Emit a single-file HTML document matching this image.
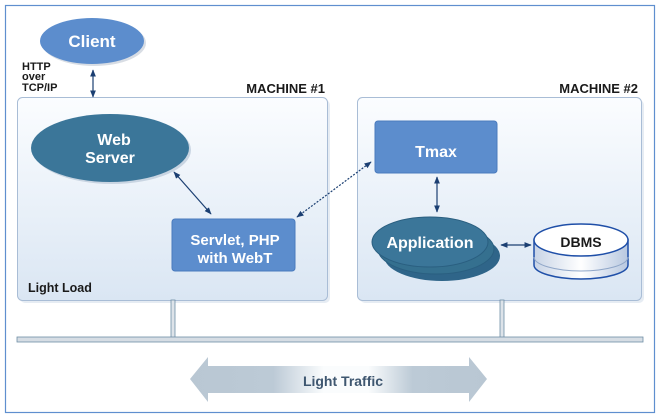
<!DOCTYPE html>
<html><head><style>
html,body{margin:0;padding:0;background:#fff;}
svg{display:block;}
text{font-family:"Liberation Sans",sans-serif;font-weight:bold;}
</style></head><body>
<svg width="660" height="418" viewBox="0 0 660 418" xmlns="http://www.w3.org/2000/svg">
<defs>
<linearGradient id="box" x1="0" y1="0" x2="0" y2="1"><stop offset="0" stop-color="#fbfdff"/><stop offset="1" stop-color="#dae6f3"/></linearGradient>
<linearGradient id="big" x1="0" y1="0" x2="1" y2="0"><stop offset="0" stop-color="#b9c7d3"/><stop offset="0.28" stop-color="#bccad6"/><stop offset="0.45" stop-color="#fafcfd"/><stop offset="0.6" stop-color="#fafcfd"/><stop offset="0.75" stop-color="#bccad6"/><stop offset="1" stop-color="#b9c7d3"/></linearGradient>
<linearGradient id="cyl" x1="0" y1="0" x2="1" y2="0"><stop offset="0" stop-color="#c8d4e6"/><stop offset="0.5" stop-color="#ffffff"/><stop offset="1" stop-color="#b8c8e0"/></linearGradient>
<marker id="ah" viewBox="0 0 10 10" refX="9" refY="5" markerWidth="6" markerHeight="6" orient="auto-start-reverse"><path d="M0,1 L10,5 L0,9 z" fill="#1b3f72"/></marker>
</defs>
<rect x="5.5" y="5.5" width="649" height="407" fill="#fff" stroke="#5f8fcf" stroke-width="1.2"/>
<!-- machine boxes -->
<rect x="20" y="100" width="310" height="203" rx="5" fill="#e6ecf3"/>
<rect x="17.5" y="97.5" width="310" height="203" rx="5" fill="url(#box)" stroke="#a9bdd6"/>
<rect x="360" y="100" width="284" height="203" rx="5" fill="#e6ecf3"/>
<rect x="357.5" y="97.5" width="284" height="203" rx="5" fill="url(#box)" stroke="#a9bdd6"/>
<text x="325" y="93" font-size="13" text-anchor="end" fill="#1a1a1a">MACHINE #1</text>
<text x="638" y="93" font-size="13" text-anchor="end" fill="#1a1a1a">MACHINE #2</text>
<text x="28" y="292" font-size="12.5" fill="#1a1a1a">Light Load</text>
<!-- client -->
<ellipse cx="94" cy="43" rx="52" ry="23" fill="#d8dde4"/>
<ellipse cx="92" cy="41" rx="52" ry="23" fill="#5c8dcd"/>
<text x="92" y="47" font-size="17" text-anchor="middle" fill="#fff">Client</text>
<text x="22" y="70" font-size="11" fill="#1a1a1a">HTTP</text>
<text x="22" y="80" font-size="11" fill="#1a1a1a">over</text>
<text x="22" y="91" font-size="11" fill="#1a1a1a">TCP/IP</text>
<line x1="93" y1="70" x2="93" y2="97" stroke="#1b3f72" stroke-width="1.2" marker-start="url(#ah)" marker-end="url(#ah)"/>
<!-- web server -->
<ellipse cx="112" cy="150" rx="79" ry="34" fill="#c9d5e2"/>
<ellipse cx="110" cy="148" rx="79" ry="34" fill="#3b7699"/>
<text x="114" y="145" font-size="16" text-anchor="middle" fill="#fff">Web</text>
<text x="110" y="163" font-size="16" text-anchor="middle" fill="#fff">Server</text>
<!-- servlet -->
<rect x="172" y="219" width="123" height="52" rx="3" fill="#5c8dcd" stroke="#4a7bbd"/>
<text x="235" y="245" font-size="15" text-anchor="middle" fill="#fff">Servlet, PHP</text>
<text x="235" y="263" font-size="15" text-anchor="middle" fill="#fff">with WebT</text>
<line x1="174" y1="172" x2="211" y2="214" stroke="#1b3f72" stroke-width="1.2" marker-start="url(#ah)" marker-end="url(#ah)"/>
<line x1="297" y1="217" x2="371" y2="162" stroke="#1b3f72" stroke-width="1.2" stroke-dasharray="2,1.5" marker-start="url(#ah)" marker-end="url(#ah)"/>
<!-- tmax -->
<rect x="375" y="121" width="122" height="52" rx="3" fill="#5c8dcd" stroke="#4a7bbd"/>
<text x="436" y="157" font-size="16" text-anchor="middle" fill="#fff">Tmax</text>
<line x1="437" y1="177" x2="437" y2="212" stroke="#1b3f72" stroke-width="1.2" marker-start="url(#ah)" marker-end="url(#ah)"/>
<!-- application -->
<ellipse cx="442" cy="256" rx="58" ry="25" fill="#2f6589"/>
<ellipse cx="436" cy="249" rx="58" ry="25" fill="#35708f" stroke="#2a5f80"/>
<ellipse cx="430" cy="242" rx="58" ry="25" fill="#3b7699" stroke="#2a5f80"/>
<text x="430" y="248" font-size="16" text-anchor="middle" fill="#fff">Application</text>
<line x1="501" y1="245" x2="531" y2="245" stroke="#1b3f72" stroke-width="1.2" marker-start="url(#ah)" marker-end="url(#ah)"/>
<!-- dbms -->
<path d="M534,240 L534,265 A47,14 0 0 0 628,265 L628,240 Z" fill="url(#cyl)" stroke="#1f4fa8" stroke-width="1.5"/>
<path d="M534,257 A47,14 0 0 0 628,257" fill="none" stroke="#8fa6c8"/>
<ellipse cx="581" cy="240" rx="47" ry="16" fill="#fff" stroke="#1f4fa8" stroke-width="1.5"/>
<text x="581" y="247" font-size="14" text-anchor="middle" fill="#1a1a1a">DBMS</text>
<!-- bus -->
<rect x="171" y="300" width="4" height="39" fill="#dde3e9" stroke="#6f8ea6" stroke-width="0.8"/>
<rect x="500" y="300" width="4" height="39" fill="#dde3e9" stroke="#6f8ea6" stroke-width="0.8"/>
<rect x="17" y="337" width="626" height="5" fill="#d6dde4" stroke="#6f8ea6" stroke-width="0.8"/>
<!-- big arrow -->
<path d="M190,379 L208,357 L208,366 L469,366 L469,357 L487,379 L469,402 L469,393 L208,393 L208,402 Z" fill="url(#big)"/>
<text x="343" y="386" font-size="14" text-anchor="middle" fill="#3f5770">Light Traffic</text>
</svg>
</body></html>
